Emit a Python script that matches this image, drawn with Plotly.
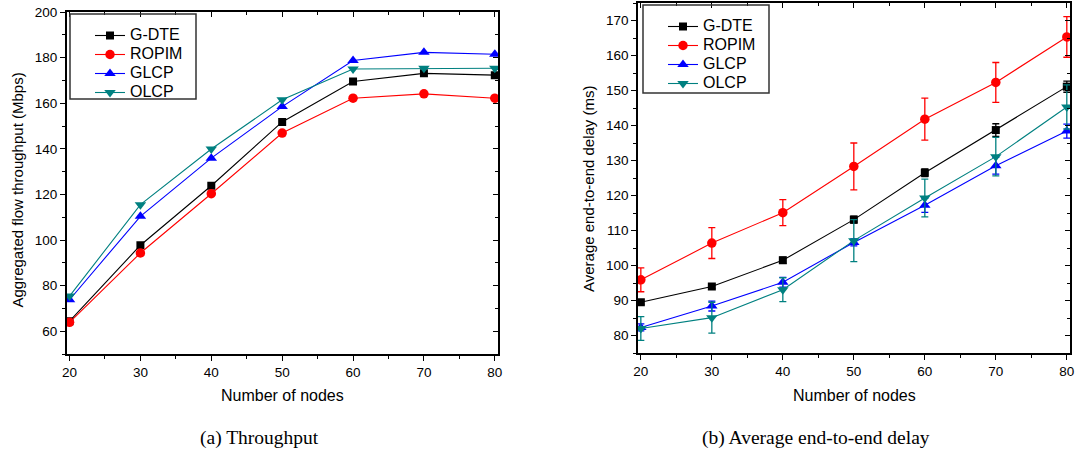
import plotly.graph_objects as go

# ---------------- data ----------------
nodes = [20, 30, 40, 50, 60, 70, 80]

thr_gdte = [64.4, 97.7, 123.8, 151.8, 169.5, 173.1, 172.3]
thr_ropim = [63.9, 94.3, 120.3, 146.9, 162.2, 164.1, 162.2]
thr_glcp = [73.8, 110.4, 135.9, 158.5, 178.7, 182.3, 181.5]
thr_olcp = [75.4, 115.5, 139.9, 161.5, 175.0, 175.3, 175.3]

dly_gdte = [89.5, 94.0, 101.5, 113.1, 126.5, 138.7, 151.1]
err_gdte = [0.6, 0.6, 0.9, 1.0, 1.1, 1.8, 1.6]
dly_ropim = [95.9, 106.4, 115.1, 128.3, 141.8, 152.3, 165.3]
err_ropim = [3.4, 4.4, 3.7, 6.7, 6.0, 5.7, 5.8]
dly_glcp = [82.3, 88.4, 95.2, 106.6, 117.2, 128.5, 138.4]
err_glcp = [1.0, 1.4, 1.4, 1.0, 2.0, 2.4, 2.0]
dly_olcp = [82.0, 85.1, 93.1, 107.1, 119.3, 131.1, 145.3]
err_olcp = [3.4, 4.4, 3.4, 6.0, 5.4, 5.5, 6.3]

series_names = ["G-DTE", "ROPIM", "GLCP", "OLCP"]
x_ticks = [20, 30, 40, 50, 60, 70, 80]
thr_ticks = [60, 80, 100, 120, 140, 160, 180, 200]
dly_ticks = [80, 90, 100, 110, 120, 130, 140, 150, 160, 170]

# ---------------- styling ----------------
W, H = 1075, 454
colors = ["#000000", "#FF0000", "#0000FF", "#008080"]
symbols = ["square", "circle", "triangle-up", "triangle-down"]
msizes = [8, 9.5, 10, 10]
FONT = "Liberation Sans, Arial, sans-serif"


def px_x(v):
    return v / W


def px_y(v):
    return 1 - v / H


fig = go.Figure()

thr_data = [thr_gdte, thr_ropim, thr_glcp, thr_olcp]
for name, ys, c, s, ms in zip(series_names, thr_data, colors, symbols, msizes):
    fig.add_trace(go.Scatter(
        x=nodes, y=ys, mode="lines+markers",
        name='<span style="font-size:16px">%s</span>' % name,
        line=dict(color=c, width=1.1),
        marker=dict(symbol=s, size=ms, color=c, line=dict(width=0)),
        xaxis="x", yaxis="y", legend="legend"))

dly_data = [dly_gdte, dly_ropim, dly_glcp, dly_olcp]
dly_err = [err_gdte, err_ropim, err_glcp, err_olcp]
for name, ys, es, c, s, ms in zip(series_names, dly_data, dly_err, colors, symbols, msizes):
    fig.add_trace(go.Scatter(
        x=nodes, y=ys, mode="lines+markers",
        name='<span style="font-size:16px">%s</span>' % name,
        line=dict(color=c, width=1.1),
        marker=dict(symbol=s, size=ms, color=c, line=dict(width=0)),
        error_y=dict(type="data", array=es, visible=True, color=c,
                     thickness=1.3, width=3.5),
        xaxis="x2", yaxis="y2", legend="legend2"))

# empty traces so mirrored (inside-tick) axes are drawn
for xa, ya in [("x3", "y3"), ("x4", "y4")]:
    fig.add_trace(go.Scatter(x=[], y=[], xaxis=xa, yaxis=ya,
                             showlegend=False, hoverinfo="skip"))

# plot-area geometry in pixels
L1 = (66.7, 498.0, 12.0, 354.0)   # left, right, top, bottom
L2 = (638.0, 1070.0, 3.0, 353.0)
xr = [19.6, 80.45]
yr1 = [50, 200]
yr2 = [75, 175]

tickfont = dict(family=FONT, size=13.5, color="black")


def main_x(dom, tickvals):
    return dict(domain=dom, range=xr, showgrid=False, zeroline=False,
                showline=True, linecolor="black", linewidth=1.6,
                ticks="outside", ticklen=5, tickwidth=1.3, tickcolor="black",
                tickvals=tickvals, tickfont=tickfont,
                minor=dict(dtick=5, tick0=0, ticks="outside", ticklen=3,
                           tickwidth=1.2, tickcolor="black", showgrid=False))


def main_y(dom, rng, tickvals, minor_dt):
    return dict(domain=dom, range=rng, showgrid=False, zeroline=False,
                showline=True, linecolor="black", linewidth=1.6,
                ticks="outside", ticklen=5, tickwidth=1.3, tickcolor="black",
                tickvals=tickvals, tickfont=tickfont,
                minor=dict(dtick=minor_dt, tick0=0, ticks="outside", ticklen=3,
                           tickwidth=1.2, tickcolor="black", showgrid=False))


def mirror_x(over, anchor, tickvals):
    return dict(overlaying=over, anchor=anchor, side="top", range=xr,
                showgrid=False, zeroline=False, showline=True,
                linecolor="black", linewidth=1.6,
                ticks="inside", ticklen=5, tickwidth=1.3, tickcolor="black",
                tickvals=tickvals, showticklabels=False,
                minor=dict(dtick=5, tick0=0, ticks="inside", ticklen=3,
                           tickwidth=1.2, tickcolor="black", showgrid=False))


def mirror_y(over, anchor, rng, tickvals, minor_dt):
    return dict(overlaying=over, anchor=anchor, side="right", range=rng,
                showgrid=False, zeroline=False, showline=True,
                linecolor="black", linewidth=1.6,
                ticks="inside", ticklen=5, tickwidth=1.3, tickcolor="black",
                tickvals=tickvals, showticklabels=False,
                minor=dict(dtick=minor_dt, tick0=0, ticks="inside", ticklen=3,
                           tickwidth=1.2, tickcolor="black", showgrid=False))


xd1 = [px_x(L1[0]), px_x(L1[1])]
yd1 = [px_y(L1[3]), px_y(L1[2])]
xd2 = [px_x(L2[0]), px_x(L2[1])]
yd2 = [px_y(L2[3]), px_y(L2[2])]

fig.update_layout(
    width=W, height=H,
    margin=dict(l=0, r=0, t=0, b=0, autoexpand=False),
    paper_bgcolor="white", plot_bgcolor="white",
    font=dict(family=FONT, color="black"),
    xaxis=dict(main_x(xd1, x_ticks), anchor="y"),
    yaxis=dict(main_y(yd1, yr1, thr_ticks, 10), anchor="x"),
    xaxis2=dict(main_x(xd2, x_ticks), anchor="y2"),
    yaxis2=dict(main_y(yd2, yr2, dly_ticks, 5), anchor="x2"),
    xaxis3=mirror_x("x", "y3", x_ticks),
    yaxis3=mirror_y("y", "x3", yr1, thr_ticks, 10),
    xaxis4=mirror_x("x2", "y4", x_ticks),
    yaxis4=mirror_y("y2", "x4", yr2, dly_ticks, 5),
    legend=dict(x=px_x(90), y=px_y(21), xanchor="left", yanchor="top",
                bgcolor="rgba(0,0,0,0)", borderwidth=0,
                font=dict(family=FONT, size=12, color="black"),
                tracegroupgap=0),
    legend2=dict(x=px_x(663), y=px_y(12), xanchor="left", yanchor="top",
                 bgcolor="rgba(0,0,0,0)", borderwidth=0,
                 font=dict(family=FONT, size=12, color="black"),
                 tracegroupgap=0),
    showlegend=True,
)

# legend frames
for (x0, x1, y0, y1) in [(70, 196, 14, 99), (643, 769, 5, 93)]:
    fig.add_shape(type="rect", xref="paper", yref="paper",
                  x0=px_x(x0), x1=px_x(x1), y0=px_y(y1), y1=px_y(y0),
                  line=dict(color="#333333", width=1.5),
                  fillcolor="rgba(0,0,0,0)", layer="above")

ann = []
ann.append(dict(text="Aggregated flow throughput (Mbps)", x=px_x(17.5), y=px_y(190),
                textangle=-90, font=dict(family=FONT, size=15)))
ann.append(dict(text="Average end-to-end delay (ms)", x=px_x(588), y=px_y(189),
                textangle=-90, font=dict(family=FONT, size=15)))
ann.append(dict(text="Number of nodes", x=px_x(282), y=px_y(395),
                font=dict(family=FONT, size=16)))
ann.append(dict(text="Number of nodes", x=px_x(854), y=px_y(395),
                font=dict(family=FONT, size=16)))
ann.append(dict(text="(a) Throughput", x=px_x(259), y=px_y(438),
                font=dict(family="Liberation Serif, DejaVu Serif, serif", size=19.5)))
ann.append(dict(text="(b) Average end-to-end delay", x=px_x(816), y=px_y(438),
                font=dict(family="Liberation Serif, DejaVu Serif, serif", size=19.5)))
for a in ann:
    a.update(xref="paper", yref="paper", xanchor="center", yanchor="middle",
             showarrow=False)
    a["font"]["color"] = "black"
fig.update_layout(annotations=ann)

fig.write_html("out.html")
